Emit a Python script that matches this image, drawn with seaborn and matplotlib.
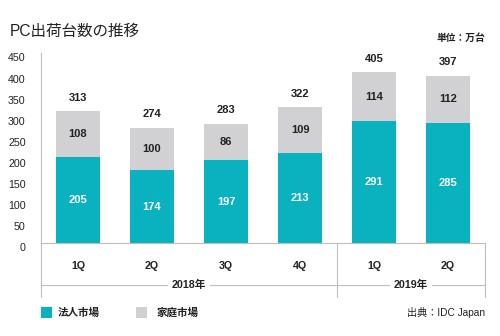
import matplotlib
matplotlib.use("Agg")
import matplotlib.pyplot as plt
import matplotlib.transforms as mtransforms
from matplotlib.patches import Rectangle
import seaborn as sns
import pandas as pd

# ---- data ----
periods = ["2018-1Q", "2018-2Q", "2018-3Q", "2018-4Q", "2019-1Q", "2019-2Q"]
quarter_labels = ["1Q", "2Q", "3Q", "4Q", "1Q", "2Q"]
corporate = [205, 174, 197, 213, 291, 285]   # 法人市場
home = [108, 100, 86, 109, 114, 112]         # 家庭市場
totals = [313, 274, 283, 322, 405, 397]
years = ["2018年", "2019年"]
year_spans = [(0, 3), (4, 5)]
yticks = [0, 50, 100, 150, 200, 250, 300, 350, 400, 450]

TEAL = "#0AB1BE"
GREY = "#D1D1D3"
LINE = "#BDBDBD"
TXT = "#222222"

sns.set_theme(style="white")
FAM = ["Liberation Sans", "Noto Sans CJK JP", "DejaVu Sans"]
plt.rcParams["font.family"] = FAM

df = pd.DataFrame({"period": periods, "corporate": corporate, "home": home, "total": totals})

fig = plt.figure(figsize=(5.0, 3.36), dpi=100)
ax = fig.add_axes([0.082, 0.2759, 0.888, 0.5649])

sns.barplot(data=df, x="period", y="total", color=GREY, width=0.6, ax=ax,
            order=periods, saturation=1, linewidth=0)
sns.barplot(data=df, x="period", y="corporate", color=TEAL, width=0.6, ax=ax,
            order=periods, saturation=1, linewidth=0)

ax.set_xlim(-0.5, 5.5)
ax.set_ylim(0, 450)
ax.set_yticks(yticks)
ax.set_xlabel("")
ax.set_ylabel("")

for s in ["top", "right"]:
    ax.spines[s].set_visible(False)
for s in ["left", "bottom"]:
    ax.spines[s].set_color(LINE)
    ax.spines[s].set_linewidth(0.8)

ax.tick_params(axis="y", length=0, pad=11, labelsize=7.7, labelcolor=TXT)
ax.tick_params(axis="x", length=0, pad=13, labelsize=7.7, labelcolor=TXT)
ax.set_xticks(range(len(periods)))
ax.set_xticklabels(quarter_labels, fontweight="bold")
off = mtransforms.ScaledTranslation(0, -4 / 100, fig.dpi_scale_trans)
for lab in ax.get_yticklabels():
    lab.set_transform(lab.get_transform() + off)

for i, (c, h, t) in enumerate(zip(corporate, home, totals)):
    ax.text(i, c / 2, str(c), ha="center", va="center", color="white",
            fontsize=8, fontweight="bold")
    ax.text(i, c + h / 2, str(h), ha="center", va="center", color=TXT,
            fontsize=8, fontweight="bold")
    ax.text(i, t + 32, str(t), ha="center", va="center", color=TXT,
            fontsize=8, fontweight="bold")

bt = mtransforms.blended_transform_factory(ax.transData, ax.transAxes)
px = 1 / (243.3 - 53.5)
y_bottom = -(297 - 243.3) * px
y_year = -(285 - 243.3) * px
for xv in [-0.5, 3.5, 5.5]:
    ax.plot([xv, xv], [0, y_bottom], transform=bt, color=LINE, lw=0.8, clip_on=False)
ax.plot([-0.5, 5.5], [y_year, y_year], transform=bt, color=LINE, lw=0.8, clip_on=False)
for (a, b), yl in zip(year_spans, years):
    ax.text((a + b) / 2, y_year, yl, transform=bt, ha="center", va="center",
            fontsize=7.7, color=TXT, fontweight="bold",
            bbox=dict(facecolor="white", edgecolor="none", pad=3))

fig.text(0.02, 1 - 31 / 336, "PC出荷台数の推移", fontsize=11.2, color=TXT,
         ha="left", va="center")
fig.text(0.97, 1 - 38 / 336, "単位：万台", fontsize=7, color=TXT,
         ha="right", va="center", fontweight="bold")

leg_y = 1 - 313 / 336
for x0, col, lab, tx in [(41, TEAL, "法人市場", 58), (136, GREY, "家庭市場", 157)]:
    fig.patches.append(Rectangle((x0 / 500, 1 - 318 / 336), 11 / 500, 11 / 336,
                                 transform=fig.transFigure, facecolor=col, edgecolor="none"))
    fig.text(tx / 500, leg_y, lab, fontsize=7.6, color=TXT, ha="left", va="center",
             fontweight="bold")
fig.text(0.97, leg_y, "出典：IDC Japan", fontsize=7.3, color=TXT, ha="right", va="center")

fig.savefig("out.png", dpi=100)
